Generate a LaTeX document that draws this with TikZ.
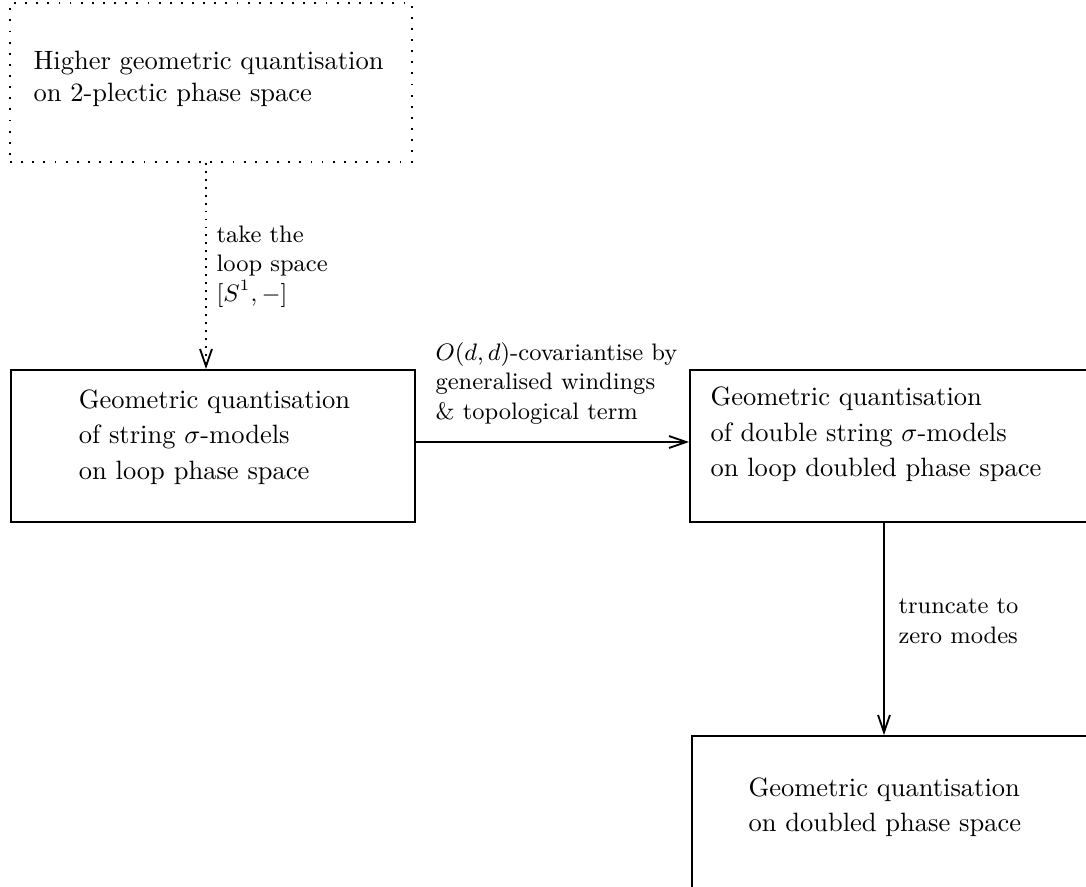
\documentclass[tikz,border=0pt]{standalone}
\usetikzlibrary{arrows.meta,fit}
\begin{document}
\begin{tikzpicture}[x=0.37736pt,y=-0.37736pt,
  lw/.style={line width=0.7pt},
  boxframe/.style={draw,lw,inner sep=0pt,fit=#1},
  dotframe/.style={draw,lw,inner sep=0pt,dash pattern=on 0.7pt off 3.5pt,fit=#1},
  boxtext/.style={inner sep=0pt,anchor=base west,align=left},
  lbl/.style={inner sep=0pt,anchor=base west,align=left,font=\small},
  arr/.style={lw,-{Straight Barb[length=6.5pt,width=4.5pt]}},
  dotarr/.style={arr,dash pattern=on 0.7pt off 2.3pt}]
\useasboundingbox (0,0) rectangle (1086,886);
% frame corners
\coordinate (ta) at (10,3);   \coordinate (tb) at (412,162);
\coordinate (la) at (11,370); \coordinate (lb) at (415,522);
\coordinate (ra) at (690,370); \coordinate (rb) at (1110,522);
\coordinate (ba) at (692,736); \coordinate (bb) at (1110,910);
% boxes
\node[dotframe=(ta)(tb)] (top) {};
\node[boxframe=(la)(lb)] (left) {};
\node[boxframe=(ra)(rb)] (right) {};
\node[boxframe=(ba)(bb)] (bot) {};
% box texts (anchored at the baseline of the last line)
\node[boxtext] (toptxt) at (33,101.7) {Higher geometric quantisation\\on 2-plectic phase space};
\node[boxtext] (lefttxt) at (78.3,479.3) {Geometric quantisation\\[1.4pt]of string $\sigma$-models\\[1.4pt]on loop phase space};
\node[boxtext] (righttxt) at (710,476.7) {Geometric quantisation\\[1.4pt]of double string $\sigma$-models\\[1.4pt]on loop doubled phase space};
\node[boxtext] (bottxt) at (748,831) {Geometric quantisation\\[1pt]on doubled phase space};
% connector guides
\coordinate (dx) at (206,0);
\coordinate (hy) at (0,442);
\coordinate (vx) at (884,0);
% connectors
\draw[dotarr] (top.south -| dx) -- (left.north -| dx);
\draw[arr] (left.east |- hy) -- (right.west |- hy);
\draw[arr] (right.south -| vx) -- (bot.north -| vx);
% labels
\node[lbl] (l1) at (216,301) {take the\\loop space\\$[S^1,-]$};
\node[lbl] (l2) at (435,419) {$O(d,d)$-covariantise by\\generalised windings\\\& topological term};
\node[lbl] (l3) at (898,643) {truncate to\\zero modes};
\end{tikzpicture}
\end{document}
